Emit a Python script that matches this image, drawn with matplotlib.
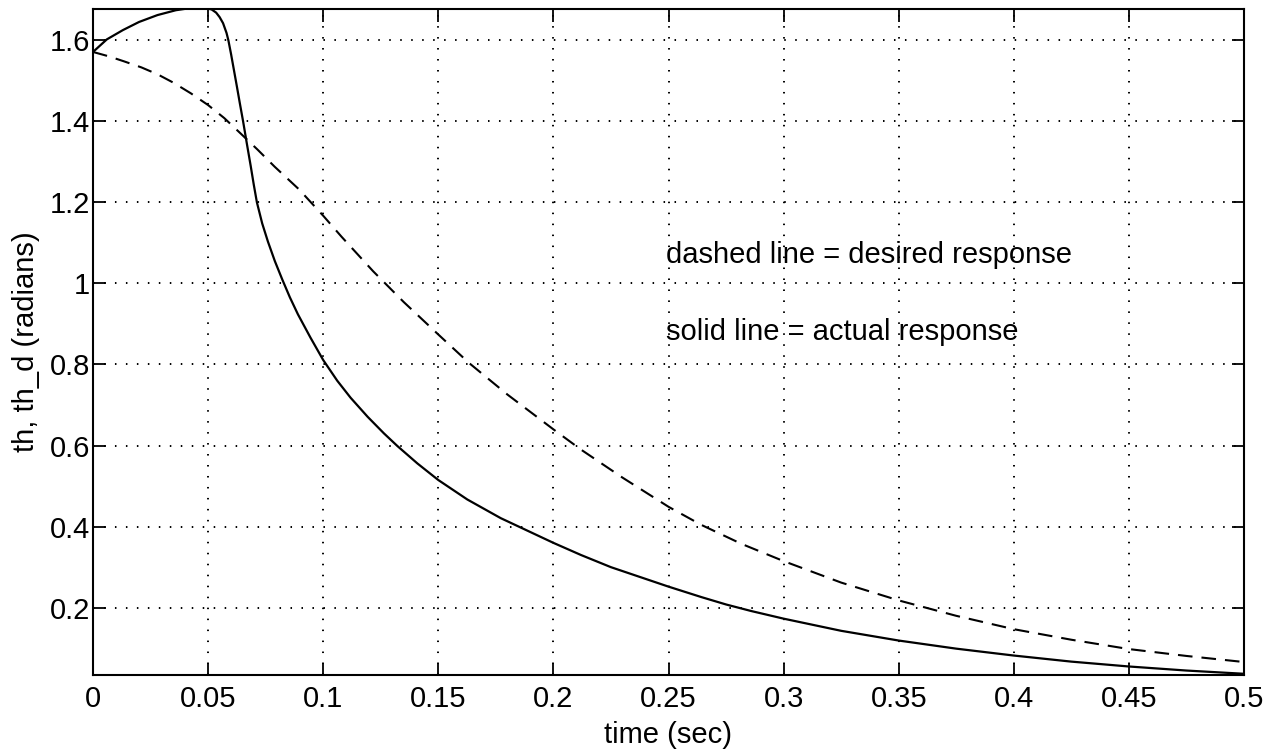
import matplotlib
matplotlib.use('Agg')
import matplotlib.pyplot as plt

# ---- data ----
t_desired = [0, 0.007, 0.0134, 0.021, 0.028, 0.035, 0.0425, 0.05, 0.057, 0.0643,
             0.0715, 0.0789, 0.0895, 0.1, 0.108, 0.1217, 0.135, 0.15, 0.1633, 0.18,
             0.2, 0.212, 0.23, 0.25, 0.264, 0.2815, 0.3, 0.325, 0.35, 0.375,
             0.4, 0.425, 0.45, 0.475, 0.5]
th_desired = [1.571, 1.560, 1.548, 1.533, 1.516, 1.495, 1.469, 1.440, 1.408, 1.369,
              1.330, 1.288, 1.232, 1.167, 1.115, 1.030, 0.954, 0.874, 0.804, 0.726,
              0.640, 0.590, 0.521, 0.449, 0.405, 0.358, 0.315, 0.262, 0.218, 0.180,
              0.147, 0.121, 0.098, 0.081, 0.066]

t_actual = [0, 0.006, 0.013, 0.020, 0.028, 0.036, 0.042, 0.048, 0.0515, 0.0535,
            0.055, 0.0565, 0.058, 0.0588, 0.0600, 0.0612, 0.0625, 0.0638, 0.0652, 0.0668,
            0.0685, 0.0698, 0.0712, 0.0735, 0.076, 0.079, 0.0822, 0.0855, 0.089, 0.0945,
            0.100, 0.1061, 0.1119, 0.1193, 0.1264, 0.1322, 0.1409, 0.150, 0.1626, 0.1771,
            0.200, 0.212, 0.225, 0.250, 0.2644, 0.275, 0.2858, 0.300, 0.325, 0.350,
            0.375, 0.400, 0.425, 0.450, 0.475, 0.500]
th_actual = [1.571, 1.602, 1.625, 1.645, 1.662, 1.674, 1.679, 1.680, 1.676, 1.668,
             1.657, 1.642, 1.618, 1.600, 1.565, 1.527, 1.486, 1.444, 1.400, 1.346,
             1.290, 1.245, 1.200, 1.148, 1.103, 1.055, 1.010, 0.966, 0.924, 0.866,
             0.811, 0.760, 0.718, 0.671, 0.630, 0.599, 0.556, 0.515, 0.467, 0.421,
             0.360, 0.330, 0.300, 0.252, 0.226, 0.208, 0.192, 0.173, 0.143, 0.119,
             0.099, 0.082, 0.067, 0.055, 0.045, 0.037]

x_ticks = [0, 0.05, 0.1, 0.15, 0.2, 0.25, 0.3, 0.35, 0.4, 0.45, 0.5]
x_tick_labels = ['0', '0.05', '0.1', '0.15', '0.2', '0.25', '0.3', '0.35', '0.4', '0.45', '0.5']
y_ticks = [0.2, 0.4, 0.6, 0.8, 1.0, 1.2, 1.4, 1.6]
y_tick_labels = ['0.2', '0.4', '0.6', '0.8', '1', '1.2', '1.4', '1.6']

x_label = 'time (sec)'
y_label = 'th, th_d (radians)'
note_desired = 'dashed line = desired response'
note_actual = 'solid line = actual response'

# ---- style ----
plt.rcParams['font.family'] = ['Liberation Sans', 'DejaVu Sans']
plt.rcParams['lines.scale_dashes'] = False

fig = plt.figure(figsize=(12.8, 7.55), dpi=100)
L, R, T, B = 93, 1244, 9, 675
ax = fig.add_axes([L / 1280, 1 - B / 755, (R - L) / 1280, (B - T) / 755])

ax.plot(t_desired, th_desired, color='black', lw=1.5, dashes=(10.5, 6.5))
ax.plot(t_actual, th_actual, color='black', lw=1.6)

ax.set_xlim(0, 0.5)
ax.set_ylim(0.034, 1.677)
ax.set_xticks(x_ticks)
ax.set_xticklabels(x_tick_labels)
ax.set_yticks(y_ticks)
ax.set_yticklabels(y_tick_labels)
ax.tick_params(direction='in', length=9, width=1.3, top=True, right=True,
               labelsize=21, colors='black')
ax.tick_params(axis='x', pad=7)
ax.tick_params(axis='y', pad=2)
ax.grid(True, color='black', linestyle=(0, (1.1, 6.8)), linewidth=1.4)
for s in ax.spines.values():
    s.set_linewidth(1.5)
    s.set_color('black')

ax.set_xlabel(x_label, fontsize=21, labelpad=6)
ax.set_ylabel(y_label, fontsize=21, labelpad=7)

ax.text(0.249, 1.07, note_desired, fontsize=21, va='center', ha='left')
ax.text(0.249, 0.88, note_actual, fontsize=21, va='center', ha='left')

fig.savefig('out.png', dpi=100)
